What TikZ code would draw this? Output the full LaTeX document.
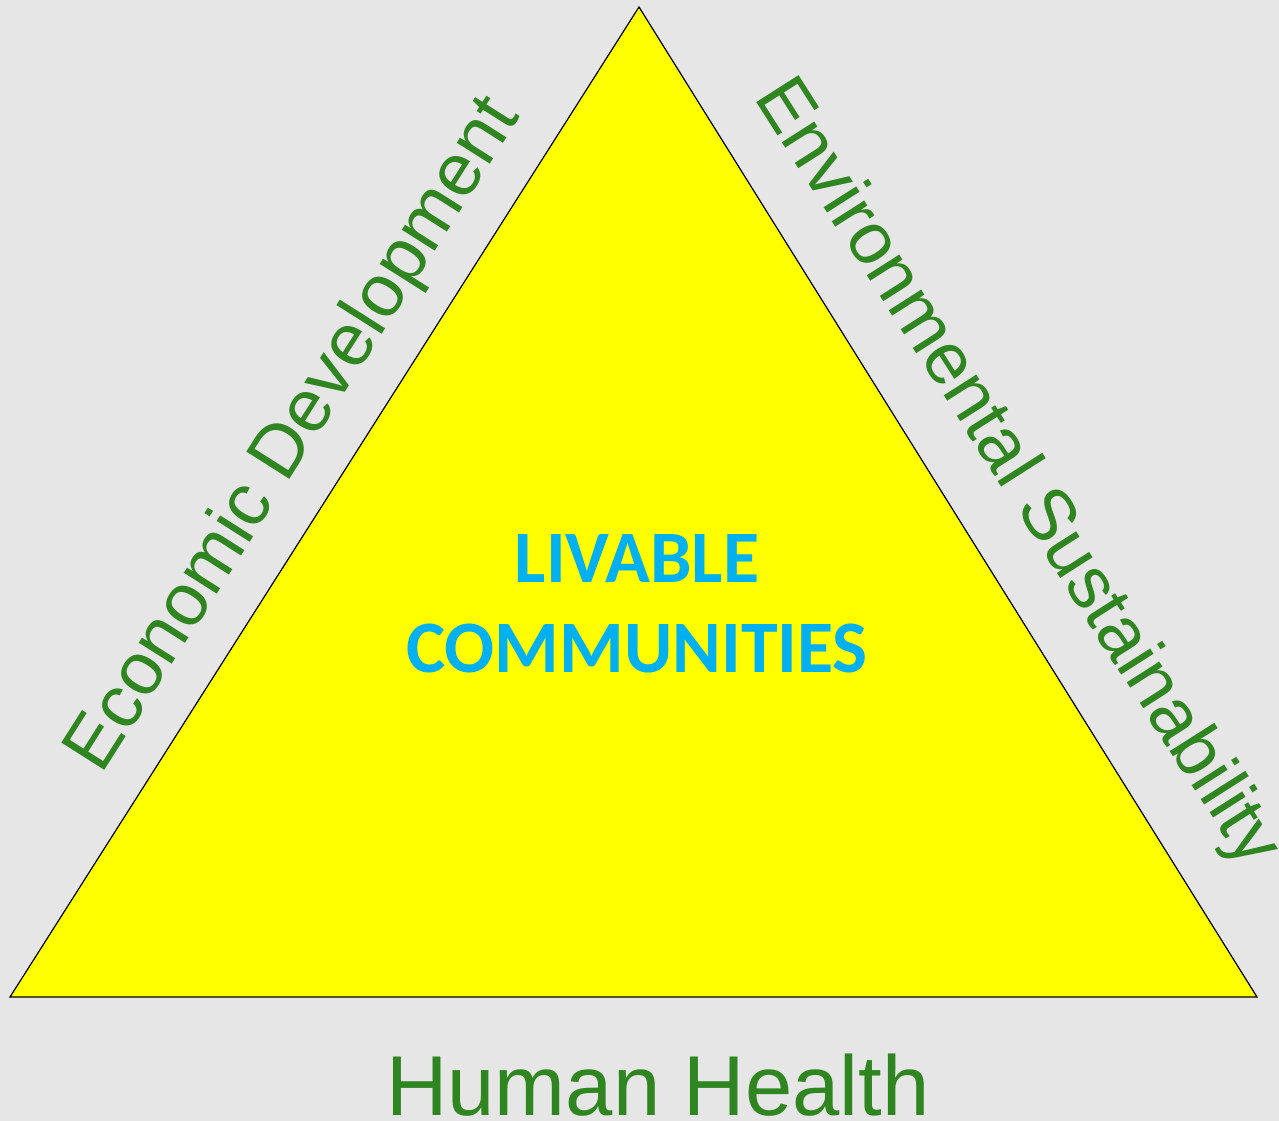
\documentclass[tikz,border=0pt]{standalone}
\usepackage{fontspec}
\setmainfont{Liberation Sans}
\newfontfamily\calibri{Carlito}

\definecolor{bg}{RGB}{230,230,230}
\definecolor{fillyellow}{RGB}{255,255,0}
\definecolor{sidegreen}{RGB}{47,133,32}
\definecolor{centrecyan}{RGB}{0,176,240}

\tikzset{
  side/.style={text=sidegreen, inner sep=0pt, anchor=base,
               font=\fontsize{74}{88}\selectfont},
  centre/.style={text=centrecyan, inner sep=0pt, anchor=base,
                 font=\calibri\bfseries\fontsize{74}{90}\selectfont}
}

\begin{document}
\begin{tikzpicture}[x=1pt,y=-1pt]
          \fill[bg] (0,0) rectangle (1279,1121);
          \useasboundingbox (0,0) rectangle (1279,1121);

          \coordinate (top)   at (639,    7);
          \coordinate (left)  at ( 10,  997);
          \coordinate (right) at (1257, 997);

          \filldraw[fill=fillyellow, draw=black, line width=1.2pt, line join=miter]
            (top) -- (left) -- (right) -- cycle;

          \node (livable)     at (637, 582) [centre] {LIVABLE};
          \node (communities) at (637, 672) [centre] {COMMUNITIES};

          \node (econ) at ( 311, 446) [side, rotate=57.6]  {Economic Development};
          \node (env)  at (1000, 484) [side, font=\fontsize{73}{88}\selectfont, rotate=-57.5] {Environmental Sustainability};
          \node (health) at (658, 1115) [side, font=\fontsize{85}{100}\selectfont] {Human Health};
        \end{tikzpicture}
\end{document}
